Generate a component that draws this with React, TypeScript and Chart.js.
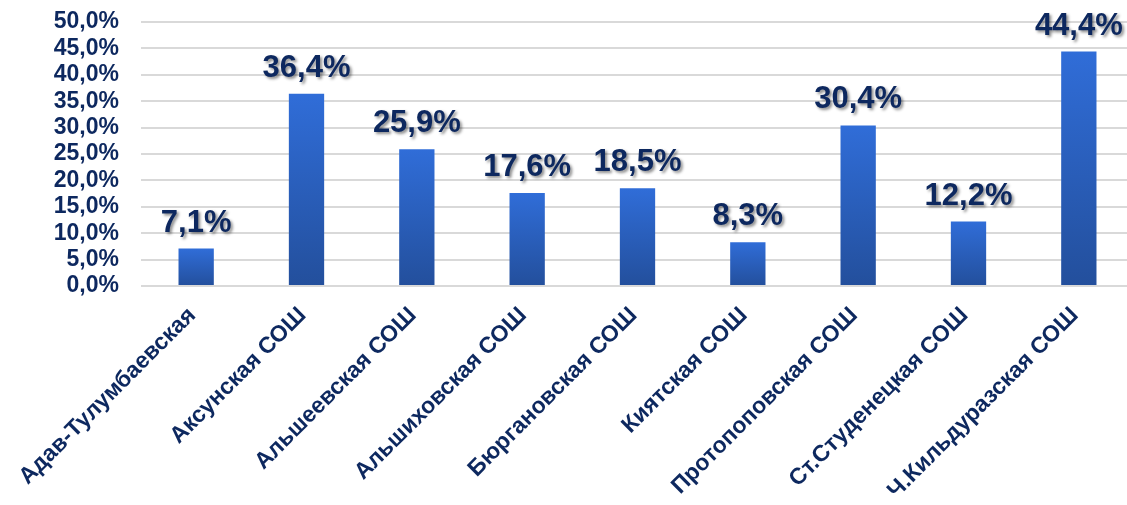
import React, { useEffect, useRef } from "react";
import { Chart, registerables } from "chart.js";

Chart.register(...registerables);

const categories = [
  "Адав-Тулумбаевская",
  "Аксунская СОШ",
  "Альшеевская СОШ",
  "Альшиховская СОШ",
  "Бюргановская СОШ",
  "Киятская СОШ",
  "Протопоповская СОШ",
  "Ст.Студенецкая СОШ",
  "Ч.Кильдуразская СОШ",
];
const values = [7.1, 36.4, 25.9, 17.6, 18.5, 8.3, 30.4, 12.2, 44.4];
const yMin = 0;
const yMax = 50;
const yStep = 5;

const NAVY = "#0d285f";
const FONT = "'Liberation Sans', Arial, sans-serif";

const fmt = (v: number, d: number) => v.toFixed(d).replace(".", ",") + "%";

const labelPlugin = {
  id: "valueLabels",
  afterDatasetsDraw(chart: any) {
    const ctx = chart.ctx;
    const meta = chart.getDatasetMeta(0);
    ctx.save();
    ctx.font = `bold 31px ${FONT}`;
    ctx.textAlign = "center";
    ctx.textBaseline = "alphabetic";
    ctx.fillStyle = NAVY;
    ctx.shadowColor = "rgba(0,0,0,0.45)";
    ctx.shadowOffsetX = 2;
    ctx.shadowOffsetY = 2;
    ctx.shadowBlur = 3;
    meta.data.forEach((el: any, i: number) => {
      ctx.fillText(fmt(values[i], 1), el.x, el.y - 17);
    });
    ctx.restore();
  },
};

export default function App() {
  const ref = useRef<HTMLCanvasElement>(null);
  useEffect(() => {
    document.body.style.margin = "0";
    document.body.style.overflow = "hidden";
    const chart = new Chart(ref.current!, {
      type: "bar",
      data: {
        labels: categories,
        datasets: [
          {
            data: values,
            backgroundColor: (c: any) => {
              const ch = c.chart;
              const ca = ch.chartArea;
              if (!ca) return "#2c62c4";
              const v = c.raw ?? 0;
              const top = ch.scales.y.getPixelForValue(v);
              const bottom = ch.scales.y.getPixelForValue(0);
              const g = ch.ctx.createLinearGradient(0, top, 0, bottom);
              g.addColorStop(0, "#306dd8");
              g.addColorStop(1, "#234f9c");
              return g;
            },
            borderWidth: 0,
            categoryPercentage: 1,
            barPercentage: 0.32,
          },
        ],
      },
      options: {
        animation: false,
        responsive: false,
        maintainAspectRatio: false,
        layout: { padding: { top: 22, right: 0, left: 0, bottom: 0 } },
        plugins: {
          legend: { display: false },
          tooltip: { enabled: false },
          title: { display: false },
        },
        scales: {
          x: {
            grid: { display: false, drawTicks: false },
            border: { display: false },
            ticks: {
              autoSkip: false,
              minRotation: 45,
              maxRotation: 45,
              padding: 16,
              labelOffset: -4,
              color: NAVY,
              font: { family: FONT, size: 23, weight: "bold" },
            },
            afterFit: (s: any) => {
              s.height = 219;
              s.paddingLeft = 0;
              s.paddingRight = 0;
            },
          },
          y: {
            min: yMin,
            max: yMax,
            grid: { color: "#d9d9d9", lineWidth: 2, drawTicks: false },
            border: { display: false },
            ticks: {
              stepSize: yStep,
              autoSkip: false,
              padding: 22,
              color: NAVY,
              font: { family: FONT, size: 23, weight: "bold" },
              callback: (v: any) => fmt(Number(v), 1),
            },
            afterFit: (s: any) => {
              s.width = 141;
              s.paddingTop = 0;
              s.paddingBottom = 0;
            },
          },
        },
      },
      plugins: [labelPlugin],
    });
    return () => chart.destroy();
  }, []);
  return (
    <div style={{ position: "fixed", left: 0, top: 0, width: 1134, height: 505, background: "#fff" }}>
      <canvas ref={ref} width={1134} height={505} style={{ width: 1134, height: 505 }} />
    </div>
  );
}
